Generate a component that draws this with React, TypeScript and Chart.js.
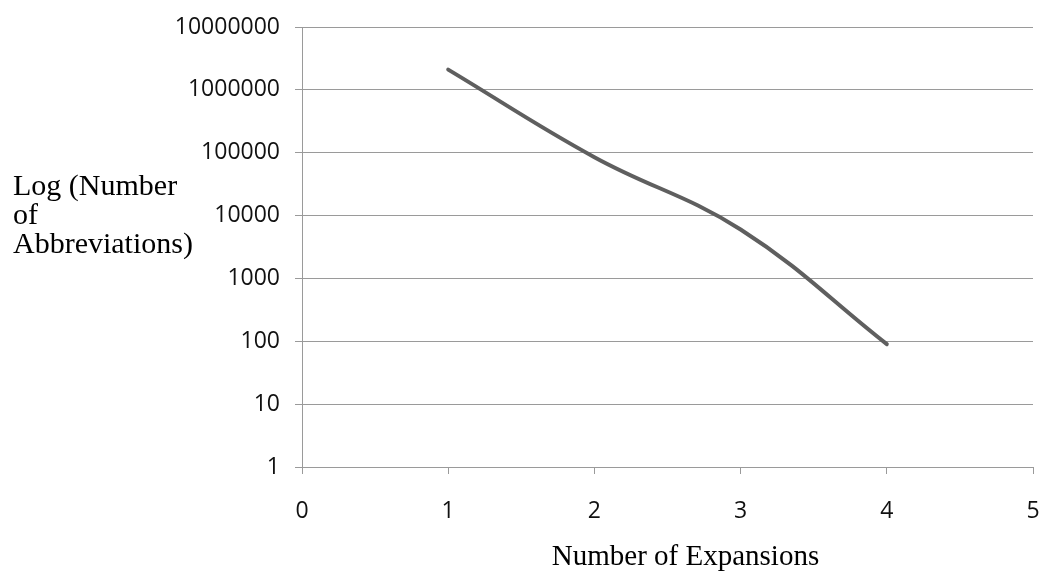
import React, { useEffect, useRef } from "react";
import { Chart, registerables } from "chart.js";

Chart.register(...registerables);

const expansions = [1, 2, 3, 4];
const abbreviations = [2100000, 85000, 6000, 90];
const yTickValues = [1, 10, 100, 1000, 10000, 100000, 1000000, 10000000];
const xTickValues = [0, 1, 2, 3, 4, 5];
const yTitleLines = ["Log (Number", "of", "Abbreviations)"];
const xTitle = "Number of Expansions";

const GRID = "#9a9a9a";
const LINE = "#5f5f5f";
const TICK_FONT = { family: "'Open Sans', sans-serif", size: 23 };
const SERIF_Y = "30px 'Liberation Serif', 'Times New Roman', serif";
const SERIF_X = "29px 'Liberation Serif', 'Times New Roman', serif";

const titlesPlugin = {
  id: "titles",
  afterDraw(chart: any) {
    const { ctx, chartArea } = chart;
    ctx.save();
    ctx.fillStyle = "#000";
    ctx.textBaseline = "alphabetic";
    ctx.textAlign = "left";
    ctx.font = SERIF_Y;
    yTitleLines.forEach((l, i) => {
      ctx.fillText(l, 13, chartArea.top + 168 + i * 29);
    });
    ctx.font = SERIF_X;
    ctx.textAlign = "center";
    ctx.fillText(xTitle, (chartArea.left + chartArea.right) / 2 + 18, chartArea.bottom + 98);
    ctx.restore();
  },
};

export default function App() {
  const ref = useRef<HTMLCanvasElement | null>(null);
  useEffect(() => {
    if (!ref.current) return;
    const chart = new Chart(ref.current, {
      type: "line",
      data: {
        datasets: [
          {
            data: expansions.map((x, i) => ({ x, y: abbreviations[i] })),
            borderColor: LINE,
            borderWidth: 4,
            borderCapStyle: "round",
            borderJoinStyle: "round",
            pointRadius: 0,
            tension: 0.4,
            fill: false,
          },
        ],
      },
      options: {
        animation: false,
        responsive: false,
        plugins: { legend: { display: false }, tooltip: { enabled: false } },
        layout: { padding: { left: 0, right: 6, top: 27, bottom: 0 } },
        scales: {
          x: {
            type: "linear",
            min: 0,
            max: 5,
            afterBuildTicks: (s: any) => {
              s.ticks = xTickValues.map((v) => ({ value: v }));
            },
            afterFit: (s: any) => {
              s.height = 104;
              s.paddingLeft = 0;
              s.paddingRight = 0;
            },
            ticks: { font: TICK_FONT, color: "#111", padding: 24, maxRotation: 0 },
            grid: { drawOnChartArea: false, drawTicks: true, tickLength: 7, color: GRID },
            border: { display: true, color: GRID },
          },
          y: {
            type: "logarithmic",
            min: 1,
            max: 10000000,
            afterBuildTicks: (s: any) => {
              s.ticks = yTickValues.map((v) => ({ value: v }));
            },
            afterFit: (s: any) => {
              s.width = 302;
              s.paddingTop = 0;
              s.paddingBottom = 0;
            },
            ticks: {
              font: TICK_FONT,
              color: "#111",
              padding: 15,
              callback: (v: any) => String(v),
            },
            grid: { color: GRID, tickLength: 7 },
            border: { display: true, color: GRID },
          },
        },
      },
      plugins: [titlesPlugin],
    } as any);
    return () => chart.destroy();
  }, []);
  return (
    <canvas
      ref={ref}
      width={1039}
      height={571}
      style={{ position: "absolute", left: 0, top: 0, display: "block" }}
    />
  );
}
